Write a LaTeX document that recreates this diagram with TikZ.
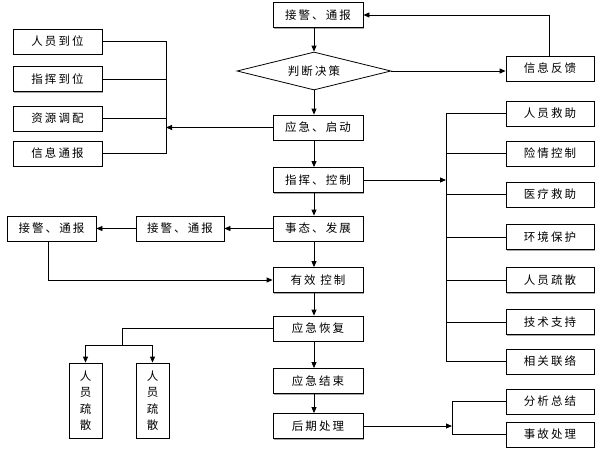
\documentclass[tikz,border=0pt]{standalone}
\usepackage{fontspec}
\setmainfont{Noto Sans CJK SC}[LetterSpace=18]
\usetikzlibrary{arrows.meta,shapes.geometric,shadows}
\begin{document}
\begin{tikzpicture}[x=1pt,y=-1pt,
  font=\fontsize{11.5}{13}\selectfont,
  box/.style={draw=black,line width=0.8pt,fill=white,minimum height=25pt,inner sep=0pt,
    drop shadow={shadow xshift=1.3pt,shadow yshift=-1.3pt,fill=gray!70,opacity=1}},
  cbox/.style={box,minimum width=90pt},
  lbox/.style={box,minimum width=89pt},
  rbox/.style={box,minimum width=88pt},
  vbox/.style={box,minimum width=33pt,minimum height=75pt,align=center,font=\fontsize{11.5}{16.5}\selectfont},
  ln/.style={line width=0.8pt},
  arr/.style={ln,-{Triangle[length=6pt,width=5pt]}}]
\useasboundingbox (0,0) rectangle (600,450);
% centre column
\node[cbox] (n1) at (318,15) {接警、通报};
\node[draw,line width=0.8pt,shape=diamond,aspect=4,inner sep=0pt,minimum width=154pt,minimum height=38pt] (dec) at (314,71) {判断决策};
\node[cbox] (n3) at (318,127.5) {应急、启动};
\node[cbox] (n4) at (318,180) {指挥、控制};
\node[cbox] (n5) at (318,228.5) {事态、发展};
\node[cbox] (n6) at (318,280) {有效 控制};
\node[cbox] (n7) at (318,328.5) {应急恢复};
\node[cbox] (n8) at (318,381) {应急结束};
\node[cbox] (n9) at (318,426) {后期处理};
% left column
\node[lbox] (l1) at (57.5,41.5) {人员到位};
\node[lbox] (l2) at (57.5,79) {指挥到位};
\node[lbox] (l3) at (57.5,118.5) {资源调配};
\node[lbox] (l4) at (57.5,153.5) {信息通报};
% right column
\node[rbox] (fb) at (550,68.5) {信息反馈};
\node[rbox] (r1) at (550,113.5) {人员救助};
\node[rbox] (r2) at (550,153.5) {险情控制};
\node[rbox] (r3) at (550,194.5) {医疗救助};
\node[rbox] (r4) at (550,237) {环境保护};
\node[rbox] (r5) at (550,280) {人员疏散};
\node[rbox] (r6) at (550,322) {技术支持};
\node[rbox] (r7) at (550,361.5) {相关联络};
\node[rbox] (s1) at (550,401.5) {分析总结};
\node[rbox] (s2) at (550,434.5) {事故处理};
% middle left
\node[lbox] (a1) at (51.5,228.5) {接警、通报};
\node[rbox] (a2) at (180,228.5) {接警、通报};
\node[vbox] (v1) at (85.5,400.5) {人\\员\\疏\\散};
\node[vbox] (v2) at (152.5,400.5) {人\\员\\疏\\散};
% coordinates
\coordinate (colx) at (314,0);
\coordinate (lb) at (166,127.5);
\coordinate (rb) at (446,180);
\coordinate (sb) at (452,426);
\coordinate (fbtop) at (549,15);
\coordinate (a1b) at (48,280);
\coordinate (rc1) at (122,328.5);
\coordinate (rc2) at (122,345);
% centre arrows
\draw[arr] (n1.south -| colx) -- (dec.north);
\draw[arr] (dec.south) -- (n3.north -| colx);
\draw[arr] (n3.south -| colx) -- (n4.north -| colx);
\draw[arr] (n4.south -| colx) -- (n5.north -| colx);
\draw[arr] (n5.south -| colx) -- (n6.north -| colx);
\draw[arr] (n6.south -| colx) -- (n7.north -| colx);
\draw[arr] (n7.south -| colx) -- (n8.north -| colx);
\draw[arr] (n8.south -| colx) -- (n9.north -| colx);
% feedback
\draw[arr] (dec.east) -- (dec.east -| fb.west);
\draw[arr] (fb.north -| fbtop) -- (fbtop) -- (n1.east);
% left bracket
\draw[arr] (n3.west) -- (lb);
\draw[ln] (l1.east) -- (l1.east -| lb) -- (l4.east -| lb) -- (l4.east);
\draw[ln] (l2.east) -- (l2.east -| lb);
\draw[ln] (l3.east) -- (l3.east -| lb);
% right bracket
\draw[arr] (n4.east) -- (rb);
\draw[ln] (r1.west) -- (r1.west -| rb) -- (r7.west -| rb) -- (r7.west);
\foreach \r in {r2,r3,r4,r5,r6} \draw[ln] (\r.west) -- (\r.west -| rb);
% bottom bracket
\draw[arr] (n9.east) -- (sb);
\draw[ln] (s1.west) -- (s1.west -| sb) -- (s2.west -| sb) -- (s2.west);
% middle-left chain
\draw[arr] (n5.west) -- (a2.east);
\draw[arr] (a2.west) -- (a1.east);
\draw[arr] (a1.south -| a1b) -- (a1b) -- (n6.west);
% recovery split
\draw[ln] (n7.west) -- (rc1) -- (rc2);
\draw[ln] (v1.north |- rc2) -- (v2.north |- rc2);
\draw[arr] (v1.north |- rc2) -- (v1.north);
\draw[arr] (v2.north |- rc2) -- (v2.north);
\end{tikzpicture}
\end{document}
